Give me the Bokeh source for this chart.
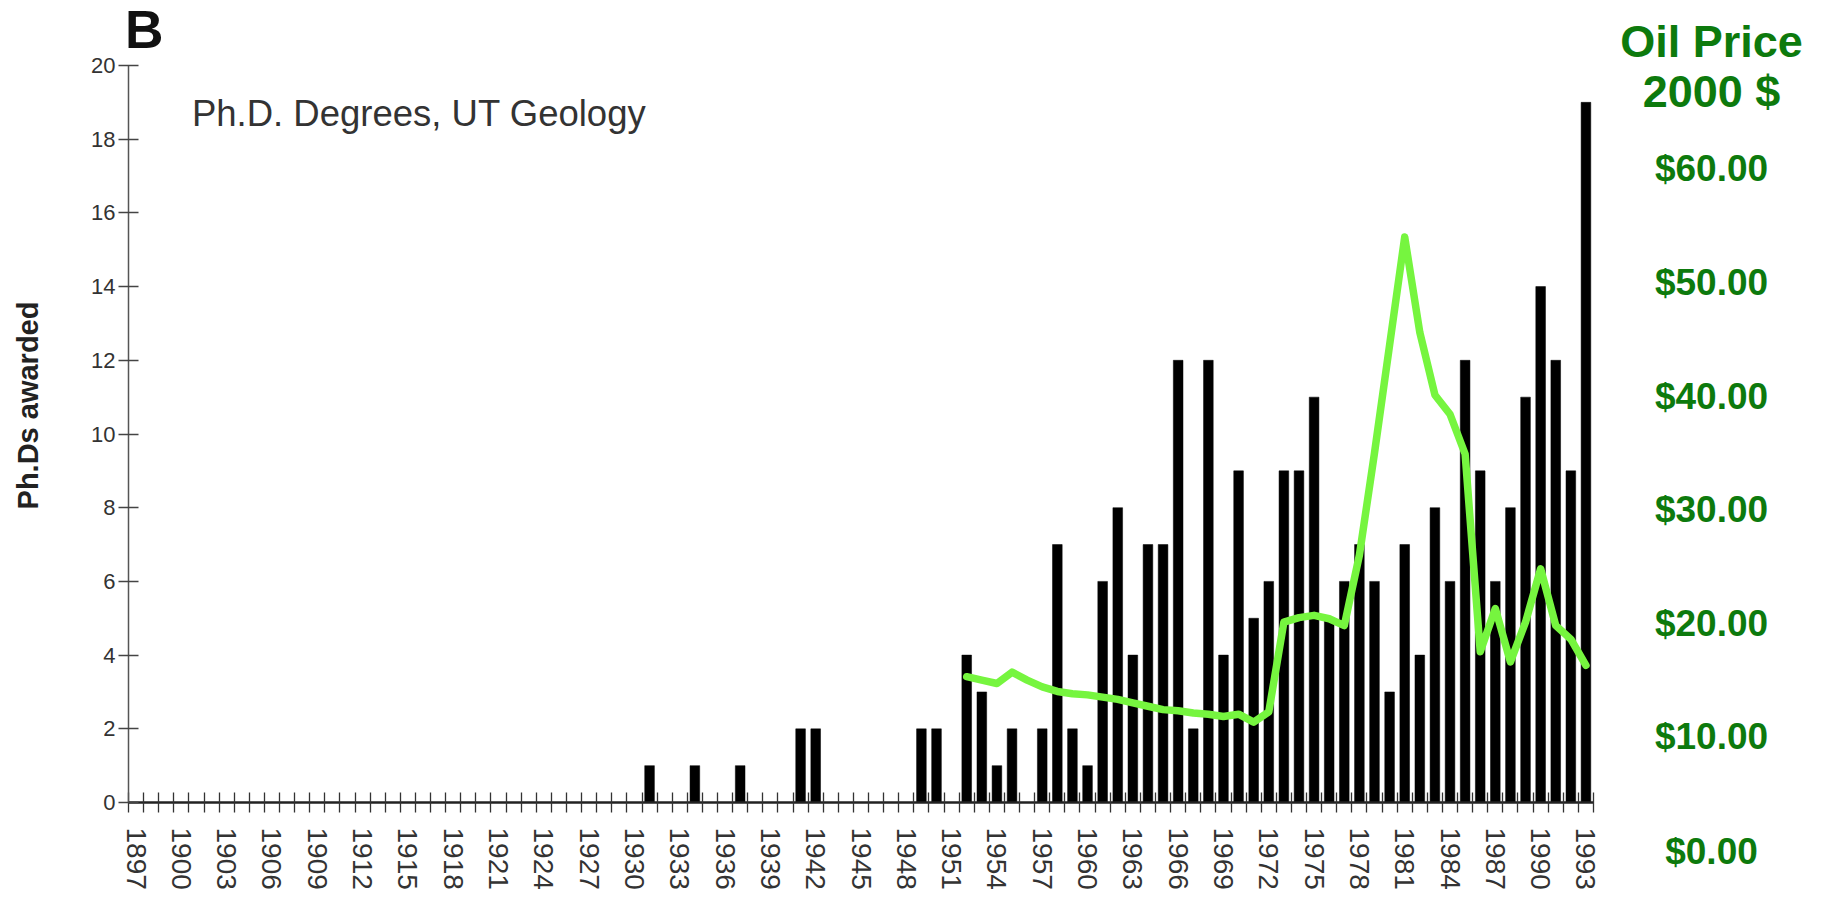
from bokeh.plotting import figure
from bokeh.layouts import row
from bokeh.models import Range1d, FixedTicker, Label, ColumnDataSource
from bokeh.core.properties import value
from bokeh.embed import file_html
from bokeh.resources import INLINE

# ---------------- data ----------------
phd_years = [1931, 1934, 1937, 1941, 1942, 1949, 1950, 1952, 1953, 1954, 1955,
             1957, 1958, 1959, 1960, 1961, 1962, 1963, 1964, 1965, 1966, 1967,
             1968, 1969, 1970, 1971, 1972, 1973, 1974, 1975, 1976, 1977, 1978,
             1979, 1980, 1981, 1982, 1983, 1984, 1985, 1986, 1987, 1988, 1989,
             1990, 1991, 1992, 1993]
phd_counts = [1, 1, 1, 2, 2, 2, 2, 4, 3, 1, 2,
              2, 7, 2, 1, 6, 8, 4, 7, 7, 12, 2,
              12, 4, 9, 5, 6, 9, 9, 11, 5, 6, 7,
              6, 3, 7, 4, 8, 6, 12, 9, 6, 8, 11,
              14, 12, 9, 19]

oil_years = [1952, 1953, 1954, 1955, 1956, 1957, 1958, 1959, 1960, 1961, 1962,
             1963, 1964, 1965, 1966, 1967, 1968, 1969, 1970, 1971, 1972, 1973,
             1974, 1975, 1976, 1977, 1978, 1979, 1980, 1981, 1982, 1983, 1984,
             1985, 1986, 1987, 1988, 1989, 1990, 1991, 1992, 1993]
oil_price = [15.3, 15.0, 14.7, 15.7, 15.0, 14.4, 14.0, 13.8, 13.7, 13.5, 13.3,
             13.0, 12.7, 12.4, 12.3, 12.1, 12.0, 11.8, 12.0, 11.3, 12.2, 20.1,
             20.5, 20.7, 20.4, 19.8, 26.0, 35.0, 44.5, 54.0, 45.6, 40.1, 38.4,
             34.9, 17.5, 21.3, 16.6, 20.1, 24.8, 19.8, 18.6, 16.3]

year_labels = [1897, 1900, 1903, 1906, 1909, 1912, 1915, 1918, 1921, 1924, 1927,
               1930, 1933, 1936, 1939, 1942, 1945, 1948, 1951, 1954, 1957, 1960,
               1963, 1966, 1969, 1972, 1975, 1978, 1981, 1984, 1987, 1990, 1993]
year_bounds = [y - 0.5 for y in range(1897, 1995)]
phd_ticks = [0, 2, 4, 6, 8, 10, 12, 14, 16, 18, 20]
oil_ticks = [0, 10, 20, 30, 40, 50, 60]
oil_tick_labels = ["$0.00", "$10.00", "$20.00", "$30.00", "$40.00", "$50.00", "$60.00"]

GREEN_TXT = "#0d7a0d"
GREEN_LINE = "#76f53f"
SANS = "Liberation Sans"

OIL_RANGE = (4.225, 74.12)

# ---------------- main figure ----------------
p = figure(frame_width=1465, frame_height=794,
           min_border_left=128, min_border_right=10,
           min_border_top=8, min_border_bottom=90,
           x_range=Range1d(1896.5, 1993.5), y_range=Range1d(0, 21.547),
           output_backend="svg", toolbar_location=None,
           background_fill_color="white", border_fill_color="white")
p.outline_line_color = None
p.xgrid.visible = False
p.ygrid.visible = False
p.extra_y_ranges = {"oil": Range1d(*OIL_RANGE)}

bars = ColumnDataSource(dict(year=phd_years, count=phd_counts))
p.vbar(x="year", top="count", bottom=0, width=0.64, source=bars,
       fill_color="black", line_color="black", line_width=0.5)

oil = ColumnDataSource(dict(year=oil_years, price=oil_price))
p.line(x="year", y="price", source=oil, y_range_name="oil",
       line_color=GREEN_LINE, line_width=7.5, line_join="round", line_cap="round")

# x axis
xa = p.xaxis[0]
xa.ticker = FixedTicker(ticks=year_labels, minor_ticks=year_bounds)
xa.axis_line_color = "#222222"
xa.axis_line_width = 2.5
xa.major_tick_line_color = None
xa.major_tick_in = 0
xa.major_tick_out = 10
xa.minor_tick_in = 10
xa.minor_tick_out = 10
xa.minor_tick_line_color = "#333333"
xa.minor_tick_line_width = 1.3
xa.major_label_orientation = "vertical"
xa.major_label_standoff = 15
xa.major_label_text_font = SANS
xa.major_label_text_font_size = "28px"
xa.major_label_text_color = "#333333"

# left axis
ya = p.yaxis[0]
ya.ticker = FixedTicker(ticks=phd_ticks)
ya.bounds = (0, 20)
ya.axis_line_color = "#555555"
ya.axis_line_width = 1.5
ya.major_tick_in = 10
ya.major_tick_out = 10
ya.major_tick_line_color = "#444444"
ya.major_tick_line_width = 1.3
ya.minor_tick_line_color = None
ya.major_label_standoff = 3
ya.major_label_text_font = SANS
ya.major_label_text_font_size = "22px"
ya.major_label_text_color = "#333333"
ya.axis_label = "Ph.Ds awarded"
ya.axis_label_text_font = SANS
ya.axis_label_text_font_style = "bold"
ya.axis_label_text_font_size = "29px"
ya.axis_label_text_color = "#222222"
ya.axis_label_standoff = 44

# panel letter and inner title
p.add_layout(Label(x=1896.5, y=20.98, x_offset=-4, text="B",
                   text_align="left", text_baseline="middle",
                   text_font=SANS, text_font_style="bold",
                   text_font_size="54px", text_color="#111111"))
p.add_layout(Label(x=1900.7, y=18.70, text="Ph.D. Degrees, UT Geology",
                   text_align="left", text_baseline="middle",
                   text_font=SANS, text_font_size="36.5px", text_color="#333333"))

# ---------------- right column: oil price scale ----------------
label_x = 108
q = figure(frame_width=210, frame_height=794,
           min_border_left=0, min_border_right=0,
           min_border_top=8, min_border_bottom=90,
           x_range=Range1d(0, 210), y_range=Range1d(*OIL_RANGE),
           y_axis_location=None,
           output_backend="svg", toolbar_location=None,
           background_fill_color="white", border_fill_color="white")
q.outline_line_color = None
q.grid.visible = False

# $0.00 lies below the frame: shown as the (horizontal) label of this column's x axis
qa = q.xaxis[0]
qa.ticker = FixedTicker(ticks=[label_x])
qa.major_label_overrides = {label_x: oil_tick_labels[0]}
qa.axis_line_color = None
qa.major_tick_line_color = None
qa.minor_tick_line_color = None
qa.major_tick_in = 0
qa.major_tick_out = 0
qa.major_label_standoff = 28
qa.major_label_text_font = SANS
qa.major_label_text_font_style = "bold"
qa.major_label_text_font_size = "37px"
qa.major_label_text_color = GREEN_TXT

ticks_src = ColumnDataSource(dict(x=[label_x] * (len(oil_ticks) - 1), y=oil_ticks[1:],
                                  t=oil_tick_labels[1:]))
q.text(x="x", y="y", text="t", source=ticks_src,
       text_font=value(SANS), text_font_style="bold", text_font_size="37px",
       text_color=GREEN_TXT, text_align="center", text_baseline="middle")
q.add_layout(Label(x=label_x, y=71.2, text="Oil Price",
                   text_align="center", text_baseline="middle",
                   text_font=SANS, text_font_style="bold",
                   text_font_size="45px", text_color=GREEN_TXT))
q.add_layout(Label(x=label_x, y=66.8, text="2000 $",
                   text_align="center", text_baseline="middle",
                   text_font=SANS, text_font_style="bold",
                   text_font_size="45px", text_color=GREEN_TXT))

layout = row(p, q)
open("out.html", "w").write(file_html(layout, INLINE))
